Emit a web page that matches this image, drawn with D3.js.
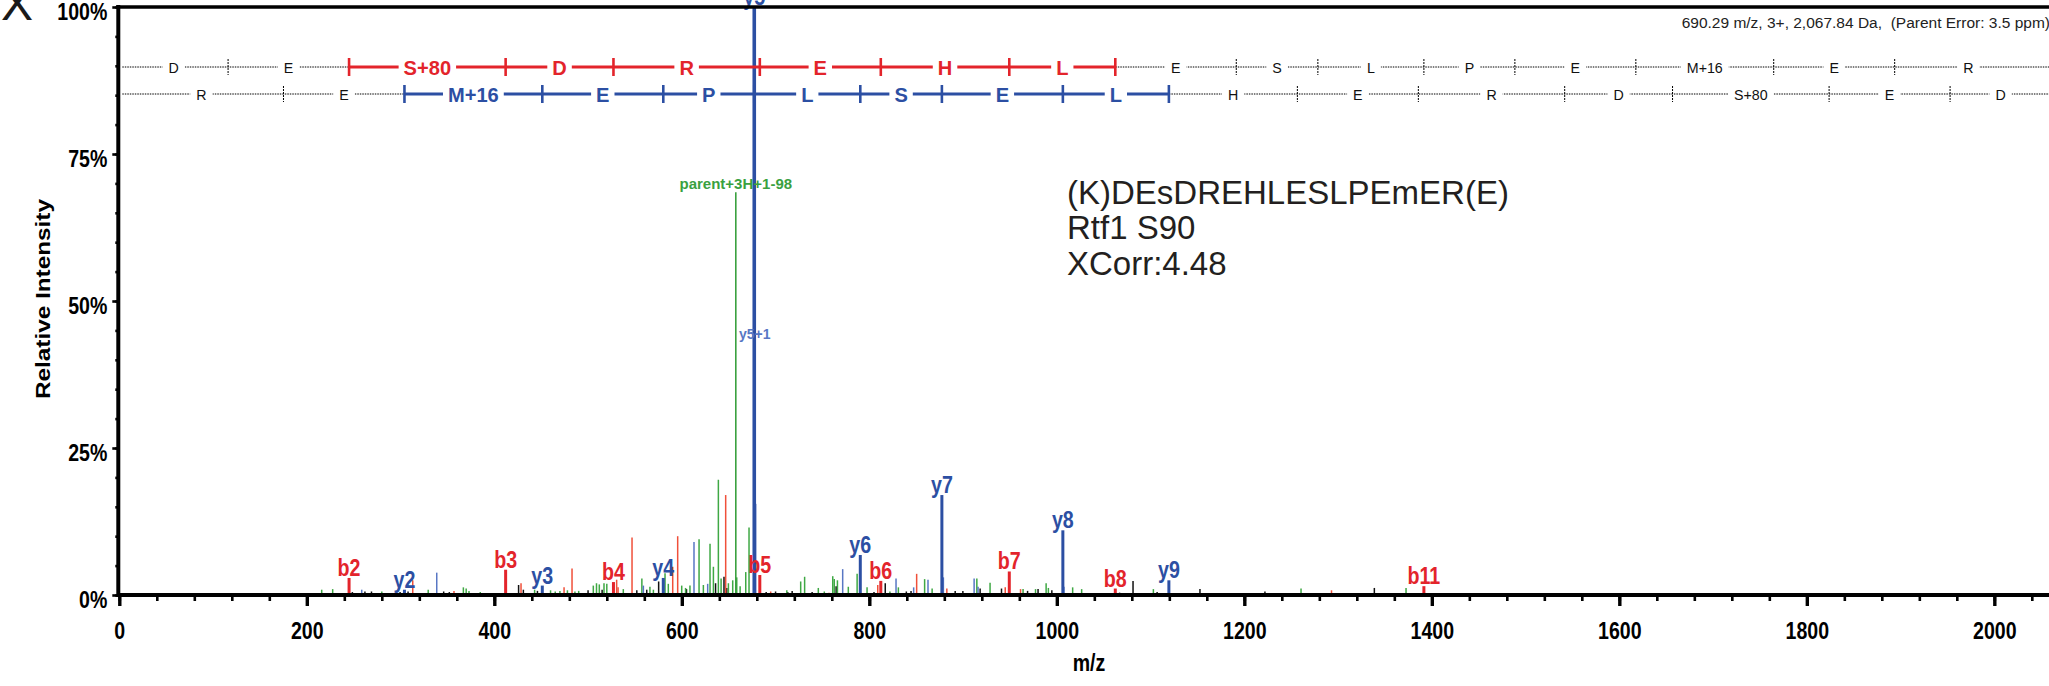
<!DOCTYPE html>
<html><head><meta charset="utf-8">
<script src="https://cdn.jsdelivr.net/npm/d3@7"></script>
<style>
html,body{margin:0;padding:0;background:#fff;}
svg{display:block;font-family:"Liberation Sans",Arial,Helvetica,sans-serif;}
</style></head><body>
<svg id="chart" width="2049" height="686"></svg>
<script>
// ---------------- DATA ----------------
const bIonLabels = ["b2","b3","b4","b5","b6","b7","b8","b11"];
const bIonMz     = [245.08,412.08,527.10,683.20,812.25,949.31,1062.39,1391.55];
const bIonInt    = [2.9,4.3,2.2,3.4,2.4,4.0,1.1,1.5];

const yIonLabels = ["y2","y3","y4","y5","y6","y7","y8","y9"];
const yIonMz     = [304.16,451.20,580.24,677.29,790.38,877.41,1006.45,1119.54];
const yIonInt    = [0.9,1.6,2.9,100,6.8,17.0,11.0,2.5];

const precursorLabel = "parent+3H+1-98";
const precursorMz = 657.6;
const precursorInt = 68.5;

const isotopeLabel = "y5+1";
const isotopeMz = 677.8;
const isotopeInt = 43;

// unlabelled peaks [m/z, relative intensity %]
const greenPeaks = [[215.9,0.9],[227.6,1.0],[280,0.6],[329.5,0.9],[367,1.3],[370,1.1],[373,0.7],[385,0.5],[443,0.9],[460,0.8],[465,0.6],[470,0.7],[478,0.8],[486,0.6],[490,0.7],[505.6,1.6],[509,2.0],[512,1.8],[517,2.0],[520,1.9],[537.6,1.0],[557.4,2.8],[566,1.4],[569.7,0.9],[582.1,3.7],[585.6,1.9],[599.9,1.6],[604,1.2],[608.7,1.6],[618.4,9.5],[623,1.7],[630.1,8.7],[633.7,4.8],[639,19.6],[641.9,2.8],[649.7,2.0],[654.3,2.5],[658.6,3.0],[662.2,1.5],[668.2,3.9],[671.7,11.5],[712,0.8],[726.8,2.3],[731,3.1],[745.6,1.2],[752,0.6],[761,3.2],[762.6,2.7],[766,2.5],[777.6,1.4],[787,3.6],[797.6,1.3],[822,0.6],[831,1.3],[859,2.7],[867,1.1],[914.7,2.8],[928.8,2.1],[964,1.0],[977.3,1.0],[988.6,2.0],[991,1.2],[1016.9,1.3],[1026.5,1.0],[1103,1.0],[1260.5,1.1],[1372.5,1.2]];
const redPeaks = [[313,2.5],[357,0.7],[428.5,2.0],[474.4,1.3],[482.9,4.5],[530.5,2.6],[532,1.3],[546.9,9.8],[590.3,4.8],[595.6,10.0],[646.8,17.0],[694.8,0.6],[757,0.4],[809,1.7],[850.5,3.6],[882.7,1.1],[945,1.3],[961.3,1.0],[1293,0.8]];
const bluePeaks = [[258.6,0.9],[338.6,3.8],[559,1.6],[613,9.0],[627.6,1.9],[678.8,15.5],[771.6,4.4],[828.5,2.8],[847.3,1.3],[862.6,2.6],[879,3.0],[911.8,2.8],[916,1.4],[1007.6,1.4]];
const blackPeaks = [[248.6,0.5],[262,0.6],[269,0.6],[299.5,0.5],[308,0.6],[346,0.6],[352,0.5],[425.9,1.7],[431,0.9],[446,0.7],[500,0.8],[515,0.9],[552,0.8],[562.6,0.9],[575.3,2.3],[605,1.0],[636,2.0],[645,3.1],[648,1.2],[690,0.5],[700,0.6],[713,0.5],[717.7,0.7],[739,0.5],[764.6,1.5],[805,0.5],[817,2.0],[839.5,0.6],[844.5,0.7],[891.6,0.7],[899.8,0.7],[918.2,1.1],[941,1.1],[968.8,0.7],[980,1.0],[994.7,0.8],[1067,0.4],[1081.3,2.4],[1107,0.5],[1152.7,1.0],[1222,0.6],[1338.7,1.2]];

// fragment ladders
const bLadderResidues = ["D","E","S+80","D","R","E","H","L","E","S","L","P","E","M+16","E","R"];
const bLadderBounds = [0,116.03,245.08,412.08,527.10,683.20,812.25,949.31,1062.39,1191.43,1278.46,1391.55,1488.60,1617.64,1764.68,1893.72,2050.84];
const bMatchedRange = [2,8];
const yLadderResidues = ["R","E","M+16","E","P","L","S","E","L","H","E","R","D","S+80","E","D"];
const yLadderBounds = [0,175.12,304.16,451.20,580.24,677.29,790.38,877.41,1006.45,1119.54,1256.59,1385.64,1541.74,1656.77,1823.76,1952.81,2067.83];
const yMatchedRange = [2,9];

const xTickMajor = [0,200,400,600,800,1000,1200,1400,1600,1800,2000];
const yTickMajor = [0,25,50,75,100];
const headerText = "690.29 m/z, 3+, 2,067.84 Da,  (Parent Error: 3.5 ppm)";
const infoLines = ["(K)DEsDREHLESLPEmER(E)","Rtf1 S90","XCorr:4.48"];

// ---------------- STYLE ----------------
const RED="#e3242b", BLUE="#2c4fa3", GREEN="#3aa13f";
const RED_L="#f0503a", BLUE_L="#5877c4", GREEN_L="#3fa844", BLACK="#111";

const W=2049, H=686;
const svg = d3.select("#chart");
const x = d3.scaleLinear().domain([0,2058]).range([119.3,2048.7]);
const y = d3.scaleLinear().domain([0,100]).range([595,7]);

function ctext(parent, px, py, str, size, weight, sx, anchor, fill){
  const g = parent.append("g").attr("transform",`translate(${px},${py}) scale(${sx},1)`);
  const t = g.append("text").attr("font-size",size).attr("font-weight",weight)
    .attr("text-anchor",anchor).attr("fill",fill).text(str);
  return t;
}

// panel letter (clipped)
svg.append("text").attr("x",1).attr("y",20).attr("font-size",48).attr("fill","#1a1a1a").text("X");

// ---------------- PEAKS ----------------
const peaks = svg.append("g");
function drawThin(data, color){
  peaks.append("g").selectAll("line").data(data).join("line")
    .attr("x1",d=>x(d[0])).attr("x2",d=>x(d[0]))
    .attr("y1",y(0)).attr("y2",d=>y(d[1]))
    .attr("stroke",color).attr("stroke-width",1.5);
}
drawThin(blackPeaks, BLACK);
drawThin(greenPeaks, GREEN_L);
drawThin(bluePeaks, BLUE_L);
drawThin(redPeaks, RED_L);

// isotope & precursor
peaks.append("line").attr("x1",x(isotopeMz)).attr("x2",x(isotopeMz)).attr("y1",y(0)).attr("y2",y(isotopeInt)).attr("stroke",BLUE_L).attr("stroke-width",1.5);
peaks.append("line").attr("x1",x(precursorMz)).attr("x2",x(precursorMz)).attr("y1",y(0)).attr("y2",y(precursorInt)).attr("stroke",GREEN).attr("stroke-width",1.6);

const bData = bIonLabels.map((l,i)=>({l, mz:bIonMz[i], v:bIonInt[i]}));
const yData = yIonLabels.map((l,i)=>({l, mz:yIonMz[i], v:yIonInt[i]}));
function drawLabelled(data, color){
  peaks.append("g").selectAll("line").data(data).join("line")
    .attr("x1",d=>x(d.mz)).attr("x2",d=>x(d.mz))
    .attr("y1",y(0)).attr("y2",d=>y(d.v))
    .attr("stroke",color).attr("stroke-width",d=>d.v>50?3.6:3);
}
drawLabelled(bData, RED);
drawLabelled(yData, BLUE);

const plabels = svg.append("g");
bData.concat(yData).forEach(d=>{
  const col = d.l[0]==="b"?RED:BLUE;
  ctext(plabels, x(d.mz), y(d.v)-2, d.l, 24, "bold", 0.82, "middle", col);
});
plabels.append("text").attr("x",x(precursorMz)).attr("y",y(precursorInt)-3)
  .attr("font-size",15).attr("font-weight","bold").attr("text-anchor","middle").attr("fill",GREEN).text(precursorLabel);
plabels.append("text").attr("x",x(isotopeMz)).attr("y",y(isotopeInt)-3)
  .attr("font-size",14).attr("font-weight","bold").attr("text-anchor","middle").attr("fill",BLUE_L).text(isotopeLabel);

// ---------------- AXES ----------------
const xMinor = d3.axisBottom(x).tickValues(d3.range(0,2058,40)).tickSize(6).tickSizeOuter(0).tickFormat("");
const xMajor = d3.axisBottom(x).tickValues(xTickMajor).tickSize(11).tickSizeOuter(0).tickFormat(d3.format("d"));
const gxm = svg.append("g").attr("transform",`translate(0,${y(0)})`).call(xMinor);
gxm.select(".domain").remove();
gxm.selectAll("line").attr("stroke","#000").attr("stroke-width",2.6);
const gx = svg.append("g").attr("transform",`translate(0,${y(0)})`).call(xMajor);
gx.select(".domain").attr("stroke","#000").attr("stroke-width",4).attr("d",`M${x(0)-2},0H${W}`);
gx.selectAll(".tick line").attr("stroke","#000").attr("stroke-width",3.4);
gx.selectAll(".tick text").attr("y",0).attr("dy",null)
  .attr("transform","translate(0,44) scale(0.85,1)")
  .attr("font-size",23).attr("font-weight","bold").attr("font-family","Liberation Sans, Arial, sans-serif").attr("fill","#000");

const yMinor = d3.axisLeft(y).tickValues(d3.range(0,101,5)).tickSize(3).tickSizeOuter(0).tickFormat("");
const yMajor = d3.axisLeft(y).tickValues(yTickMajor).tickSize(6).tickSizeOuter(0).tickFormat(d=>d+"%");
const gym = svg.append("g").attr("transform",`translate(${x(0)-1},0)`).call(yMinor);
gym.select(".domain").remove();
gym.selectAll("line").attr("stroke","#000").attr("stroke-width",2.6);
const gy = svg.append("g").attr("transform",`translate(${x(0)-1},0)`).call(yMajor);
gy.select(".domain").attr("stroke","#000").attr("stroke-width",4).attr("d",`M0,${y(100)-2}V${y(0)+2}`);
gy.selectAll(".tick line").attr("stroke","#000").attr("stroke-width",2.6);
gy.selectAll(".tick text").attr("x",0).attr("dy",null).attr("y",0)
  .attr("transform","translate(-11,12) scale(0.85,1)")
  .attr("font-size",23).attr("font-weight","bold").attr("font-family","Liberation Sans, Arial, sans-serif").attr("fill","#000");

// top border
svg.append("line").attr("x1",x(0)-3).attr("x2",W).attr("y1",y(100)).attr("y2",y(100))
  .attr("stroke","#000").attr("stroke-width",3.6);

// axis titles
ctext(svg, 1089, 671, "m/z", 23, "bold", 0.85, "middle", "#000");
svg.append("text").attr("transform","translate(50,299) rotate(-90)")
  .attr("text-anchor","middle").attr("font-size",20).attr("font-weight","bold").attr("fill","#000")
  .attr("textLength",200).attr("lengthAdjust","spacingAndGlyphs").text("Relative Intensity");

// header & info
svg.append("text").attr("x",2050).attr("y",28).attr("text-anchor","end").attr("font-size",15.5)
  .attr("fill","#222").style("white-space","pre").attr("xml:space","preserve").text(headerText);
const info = svg.append("g");
infoLines.forEach((s,i)=>{
  info.append("text").attr("x",1067).attr("y",204+i*35.4).attr("font-size",33).attr("fill","#231f20").text(s);
});

// ---------------- LADDERS ----------------
const ladLines = svg.append("g"), ladBg = svg.append("g"), ladText = svg.append("g");
function drawLadder(rowY, residues, bounds, range, color){
  const [f,l] = range;
  const xs = bounds.map(b=>Math.min(x(b), W+2));
  // dotted backbone
  ladLines.append("line").attr("x1",x(0)+3).attr("x2",xs[f]).attr("y1",rowY).attr("y2",rowY)
    .attr("stroke","#000").attr("stroke-width",1).attr("stroke-dasharray","1.5,1");
  ladLines.append("line").attr("x1",xs[l]).attr("x2",W).attr("y1",rowY).attr("y2",rowY)
    .attr("stroke","#000").attr("stroke-width",1).attr("stroke-dasharray","1.5,1");
  // solid matched
  ladLines.append("line").attr("x1",xs[f]).attr("x2",xs[l]).attr("y1",rowY).attr("y2",rowY)
    .attr("stroke",color).attr("stroke-width",3);
  bounds.forEach((b,i)=>{
    if(i===0 || i===bounds.length-1) return;
    if(i>=f && i<=l){
      ladLines.append("line").attr("x1",xs[i]).attr("x2",xs[i]).attr("y1",rowY-9).attr("y2",rowY+9)
        .attr("stroke",color).attr("stroke-width",2.6);
    } else {
      ladLines.append("line").attr("x1",xs[i]).attr("x2",xs[i]).attr("y1",rowY-8).attr("y2",rowY+8)
        .attr("stroke","#000").attr("stroke-width",1).attr("stroke-dasharray","2,1");
    }
  });
  residues.forEach((r,i)=>{
    const cx = (xs[i]+xs[i+1])/2;
    const matched = i>=f && i<l;
    let t, sx;
    if(matched){ sx=0.98; t = ctext(ladText, cx, rowY+7.5, r, 20.5, "bold", sx, "middle", color); }
    else { sx=0.95; t = ctext(ladText, cx, rowY+5.5, r, 15, "normal", sx, "middle", "#111"); }
    const w = t.node().getComputedTextLength()*sx;
    const pad = matched?5:6;
    ladBg.append("rect").attr("x",cx-w/2-pad).attr("y",rowY-4).attr("width",w+2*pad).attr("height",8).attr("fill","#fff");
  });
}
drawLadder(67, bLadderResidues, bLadderBounds, bMatchedRange, RED);
drawLadder(94, yLadderResidues, yLadderBounds, yMatchedRange, BLUE);
</script>
</body></html>
